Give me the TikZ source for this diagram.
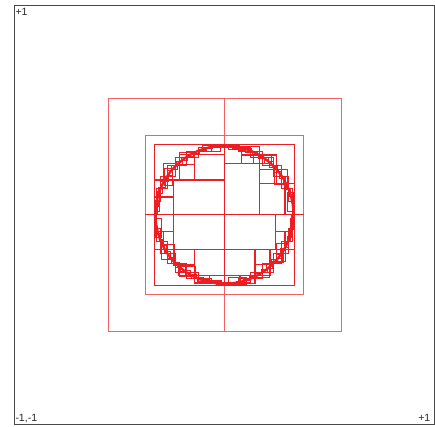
\documentclass[tikz,border=0pt]{standalone}
\usepackage{fontspec}
\setmainfont{Liberation Sans}
\definecolor{boxred}{RGB}{236,30,36}
\begin{document}
\begin{tikzpicture}[x=1pt,y=-1pt,
  frame/.style={draw=black!72, line width=1pt},
  outerbox/.style={draw=boxred!70, line width=1pt},
  midbox/.style={draw=boxred, line width=1.2pt},
  arcbox/.style={draw=boxred, line width=0.9pt},
  finebox/.style={draw=boxred, line width=0.7pt},
  circ/.style={draw=boxred, line width=2.4pt},
  lbl/.style={inner sep=0pt, font=\fontsize{10.5}{10.5}\selectfont, text=black!85}]
\useasboundingbox (0,0) rectangle (435,426);
\draw[frame] (14,5) rectangle (434,424);
\node[lbl, anchor=base west] (tl) at (15.3,15.5) {+1};
\node[lbl, anchor=base west] (bl) at (15.3,421.5) {-1,-1};
\node[lbl, anchor=base east] (br) at (430.5,421.5) {+1};
% levels of squares
\draw[outerbox] (108,98.3) rectangle (341,331);
\draw[outerbox] (224.7,98.3) -- (224.7,331);
\draw[outerbox] (145.3,135.7) rectangle (303.7,294);
\draw[midbox] (145.3,214.7) -- (303.7,214.7);
\draw[midbox] (154.3,144.3) rectangle (294.7,285.3);
\draw[midbox] (154.3,249.3) -- (294.7,249.3);
% medium cells
\foreach \xa/\ya/\xb/\yb in {
  173.3/180/224.7/214.7, 194.3/154.3/224.7/180, 154.3/180/173.3/197,
  154.3/197/173.3/214.7, 163.3/163.3/179.3/180, 179.3/154.3/194.3/180,
  224.7/163.3/259.7/214.7, 224.7/146.7/241.7/163.3, 241.7/146.7/259.7/155,
  241.7/155/259.7/163.3, 259.7/169.3/276.7/183.3, 259.7/183.3/285/214.7,
  285/183.3/294.3/214.7, 259.7/155/276.7/169.3,
  224.7/214.7/275.7/249.3, 275.7/214.7/291.7/231.7, 275.7/231.7/285/249.3,
  224.7/249.3/255/275.3, 255/249.3/270/264.3, 255/264.3/270/275.3,
  270/249.3/283/262, 224.7/275.3/240/283.7, 240/275.3/255/283.7,
  173.3/214.7/224.7/249.3, 194.3/249.3/224.7/275.3, 154.3/214.7/173.3/231.7,
  163.3/231.7/173.3/249.3, 173.3/249.3/194.3/265, 179.3/265/194.3/276.7,
  209.3/275.3/224.7/283, 194.3/275.3/209.3/283}
  \draw[midbox] (\xa,\ya) rectangle (\xb,\yb);
% small cells along the boundary
\begin{scope}[shift={(224.5,214.7)}]
\foreach \k in {0,...,15}
  \draw[arcbox] ({\k*22.5+3}:67) rectangle ({(\k+1)*22.5-3}:69.5);
\foreach \k in {0,...,31}
  \draw[arcbox] ({\k*11.25}:69) rectangle ({(\k+1)*11.25}:69);
\foreach \k in {0,...,63}
  \draw[finebox] ({\k*5.625+1}:69.5) rectangle ({(\k+1)*5.625+1}:68);
\draw[circ] (0,0) circle [radius=69];
\end{scope}
\end{tikzpicture}
\end{document}
